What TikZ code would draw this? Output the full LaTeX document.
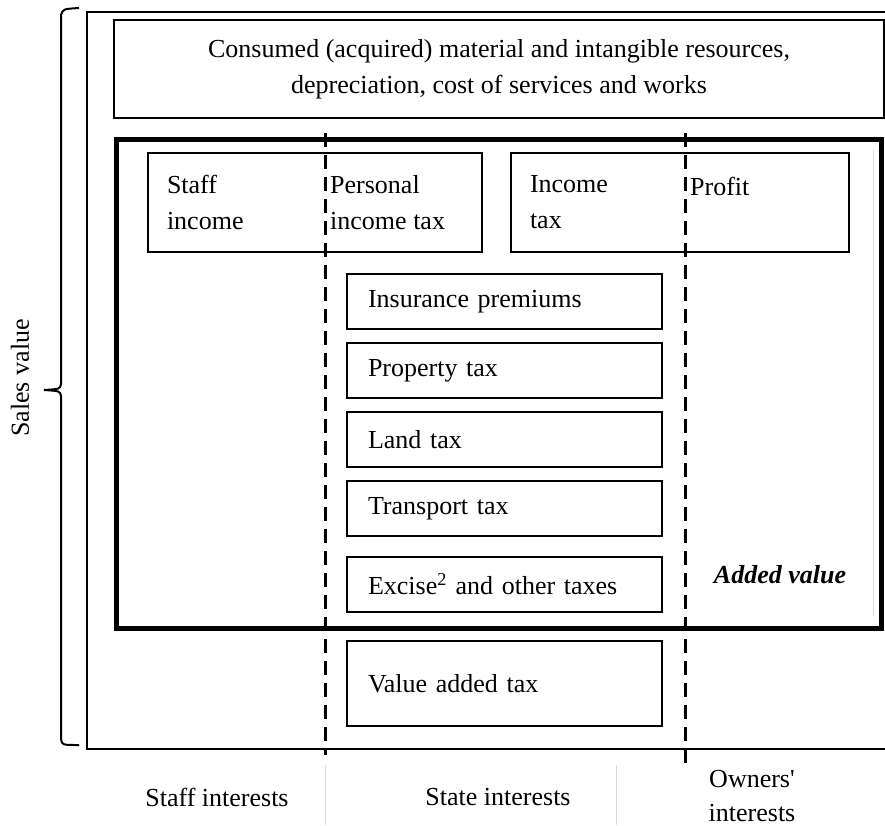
\documentclass[tikz,border=0pt]{standalone}
\usepackage{fontspec}
\setmainfont{Liberation Serif}
\begin{document}
\begin{tikzpicture}[x=1pt,y=-1pt,font=\fontsize{26}{36}\selectfont,
  box/.style={draw,line width=2pt,inner sep=0pt},
  taxbox/.style={box,minimum width=315pt,minimum height=55pt,text width=273pt,inner xsep=21pt,align=left},
  sharebox/.style={box,minimum height=99pt,inner xsep=19pt,align=left},
  txt/.style={anchor=west,align=left,inner sep=0pt},
  split/.style={line width=3pt,dash pattern=on 14pt off 8pt},
  faint/.style={black!15,line width=1pt}]
\useasboundingbox (0,0) rectangle (885,825);
\draw[line width=2pt] (885,12) -- (87,12) -- (87,749) -- (885,749);
\draw[line width=2pt] (79,8) .. controls (63,9) .. (61,15) -- (61,384) .. controls (60,389) .. (44,390) .. controls (60,391) .. (61,396) -- (61,739) .. controls (62,745) .. (79,745);
\node[rotate=90] (sales) at (20,378) {Sales value};
\node[box,minimum width=770pt,minimum height=98pt,align=center] (res) at (499,69) {Consumed (acquired) material and intangible resources,\\depreciation, cost of services and works};
\node[draw,line width=5pt,minimum width=765pt,minimum height=489pt] (added) at (498.5,383.5) {};
\draw[faint] (873,150) -- (873,615);
\node[sharebox,minimum width=334pt,text width=296pt] (staff) at (315,202.5) {Staff\\income};
\node[txt] (pit) at (330,202.5) {Personal\\income tax};
\node[sharebox,minimum width=338pt,text width=300pt] (inc) at (680,202.5) {Income\\tax};
\node[txt] (profit) at (690,186) {Profit};
\node[taxbox] (ins) at (504.5,301.5) {Insurance premiums};
\node[taxbox] (prop) at (504.5,370.5) {Property tax};
\node[taxbox] (land) at (504.5,439.5) {Land tax};
\node[taxbox] (trans) at (504.5,508.5) {Transport tax};
\node[taxbox] (exc) at (504.5,584) {Excise\textsuperscript{2} and other taxes};
\node[taxbox,minimum height=85pt] (vat) at (504.5,683.5) {Value added tax};
\node (av) at (780,575) {\textbf{\textit{Added value}}};
\draw[split] (325,133) -- (325,755);
\draw[split] (685,133) -- (685,767);
\draw[faint] (325,765) -- (325,825);
\draw[faint] (616,765) -- (616,825);
\node (staffint) at (217,797) {Staff interests};
\node (stateint) at (498,797) {State interests};
\node[align=center,inner sep=0pt,font=\fontsize{26}{34}\selectfont] (owners) at (752,796) {Owners\textquotesingle\\interests};
\end{tikzpicture}
\end{document}
